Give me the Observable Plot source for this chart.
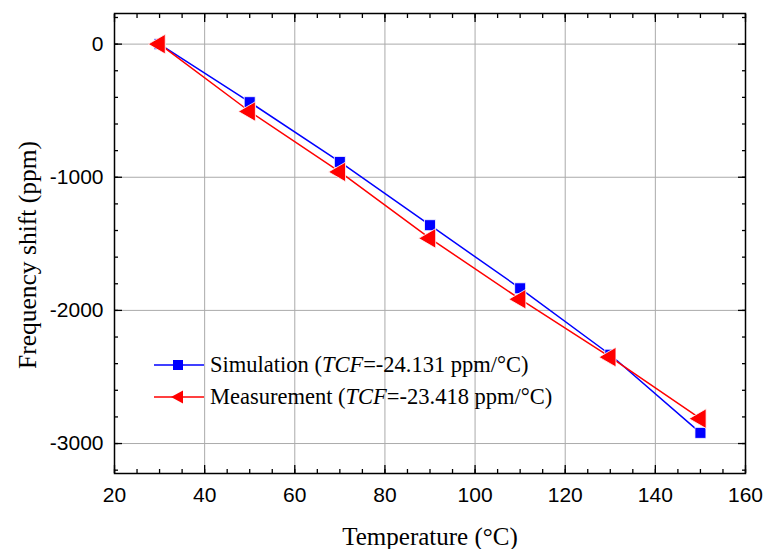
<!DOCTYPE html>
<html><head><meta charset="utf-8">
<script src="https://cdn.jsdelivr.net/npm/d3@7"></script>
<script src="https://cdn.jsdelivr.net/npm/@observablehq/plot@0.6"></script>
<style>
body{margin:0;background:#fff;}
#wrap{position:relative;width:765px;height:549px;overflow:hidden;}
.t{position:absolute;font-family:"Liberation Serif","Times New Roman",serif;color:#000;white-space:nowrap;line-height:1;}
.leg{position:absolute;left:152px;font-family:"Liberation Serif","Times New Roman",serif;font-size:22.5px;line-height:1;color:#000;white-space:nowrap;display:flex;align-items:center;}
.leg svg{margin-right:4px;}
</style></head><body>
<div id="wrap"></div>
<script>
const temperature = [30, 50, 70, 90, 110, 130, 150];
const simulation = [0, -436, -885, -1360, -1834, -2333, -2920];
const measurement = [0, -506, -960, -1459, -1916, -2351, -2813];
const xTicks = [20, 40, 60, 80, 100, 120, 140, 160];
const yTicks = [0, -1000, -2000, -3000];
const seriesNames = ["Simulation", "Measurement"];
const seriesTCF = ["-24.131", "-23.418"];
const xTitle = "Temperature (°C)";
const yTitle = "Frequency shift (ppm)";

const sim = temperature.map((t, i) => ({t, v: simulation[i]}));
const meas = temperature.map((t, i) => ({t, v: measurement[i]}));
const xMinor = d3.range(20, 161, 5);
const yMinor = d3.range(-3200, 201, 200);
const blank = () => "";
const gridColor = "#ababab";

const chart = Plot.plot({
  width: 765, height: 549,
  marginLeft: 114, marginRight: 20, marginTop: 13, marginBottom: 76,
  x: {domain: [20, 160]},
  y: {domain: [-3225, 230]},
  style: {fontFamily: "'Liberation Sans', Arial, sans-serif", fontSize: "21px", color: "#000", background: "#fff"},
  marks: [
    Plot.gridX(xTicks, {stroke: gridColor, strokeOpacity: 1, strokeWidth: 1}),
    Plot.gridY(yTicks, {stroke: gridColor, strokeOpacity: 1, strokeWidth: 1}),
    // ticks (inward)
    Plot.axisX(xMinor, {anchor: "bottom", tickSize: -4, tickFormat: blank, label: null, strokeWidth: 1.3}),
    Plot.axisX(xTicks, {anchor: "bottom", tickSize: -8, tickFormat: blank, label: null, strokeWidth: 1.3}),
    Plot.axisX(xMinor, {anchor: "top", tickSize: -4, tickFormat: blank, label: null, strokeWidth: 1.3}),
    Plot.axisX(xTicks, {anchor: "top", tickSize: -8, tickFormat: blank, label: null, strokeWidth: 1.3}),
    Plot.axisY(yMinor, {anchor: "left", tickSize: -4, tickFormat: blank, label: null, strokeWidth: 1.3}),
    Plot.axisY(yTicks, {anchor: "left", tickSize: -8, tickFormat: blank, label: null, strokeWidth: 1.3}),
    Plot.axisY(yMinor, {anchor: "right", tickSize: -4, tickFormat: blank, label: null, strokeWidth: 1.3}),
    Plot.axisY(yTicks, {anchor: "right", tickSize: -8, tickFormat: blank, label: null, strokeWidth: 1.3}),
    // labels
    Plot.axisX(xTicks, {anchor: "bottom", tickSize: 0, tickPadding: 14, label: null, fontSize: 21, tickFormat: d => String(d)}),
    Plot.axisY(yTicks, {anchor: "left", tickSize: 0, tickPadding: 11, label: null, fontSize: 21, tickFormat: d => String(d)}),
    // data
    Plot.line(sim, {x: "t", y: "v", stroke: "#0000ff", strokeWidth: 1.5}),
    Plot.line(meas, {x: "t", y: "v", stroke: "#ff0000", strokeWidth: 1.5}),
    Plot.dot(sim, {x: "t", y: "v", symbol: "square", fill: "#0000ff", stroke: "#fff", strokeWidth: 0.8, r: 6.2}),
    Plot.dot(meas, {x: "t", y: "v", symbol: "triangle", rotate: -90, fill: "#ff0000", stroke: "#fff", strokeWidth: 0.8, r: 7.3}),
    Plot.frame({stroke: "#000", strokeWidth: 1.5})
  ]
});

const wrap = document.getElementById("wrap");
wrap.appendChild(chart);

// axis titles
const xt = document.createElement("div");
xt.className = "t";
xt.textContent = xTitle;
xt.style.fontSize = "25px";
xt.style.left = "430px";
xt.style.top = "524px";
xt.style.transform = "translateX(-50%)";
wrap.appendChild(xt);

const yt = document.createElement("div");
yt.className = "t";
yt.textContent = yTitle;
yt.style.fontSize = "25.5px";
yt.style.left = "28px";
yt.style.top = "255px";
yt.style.transform = "translate(-50%,-50%) rotate(-90deg)";
wrap.appendChild(yt);

// legend
const legendColors = ["#0000ff", "#ff0000"];
const legendTops = [354, 386];
seriesNames.forEach((name, i) => {
  const row = document.createElement("div");
  row.className = "leg";
  row.style.top = legendTops[i] + "px";
  const marker = i === 0
    ? `<rect x="21" y="6" width="10" height="10" fill="${legendColors[i]}"/>`
    : `<path d="M19,11 L31,4.5 L31,17.5 Z" fill="${legendColors[i]}"/>`;
  row.innerHTML = `<svg width="54" height="22"><line x1="2" x2="52" y1="11" y2="11" stroke="${legendColors[i]}" stroke-width="1.5"/>${marker}</svg>` +
    `<span>${name} (<i>TCF</i>=${seriesTCF[i]} ppm/°C)</span>`;
  wrap.appendChild(row);
});
</script>
</body></html>
